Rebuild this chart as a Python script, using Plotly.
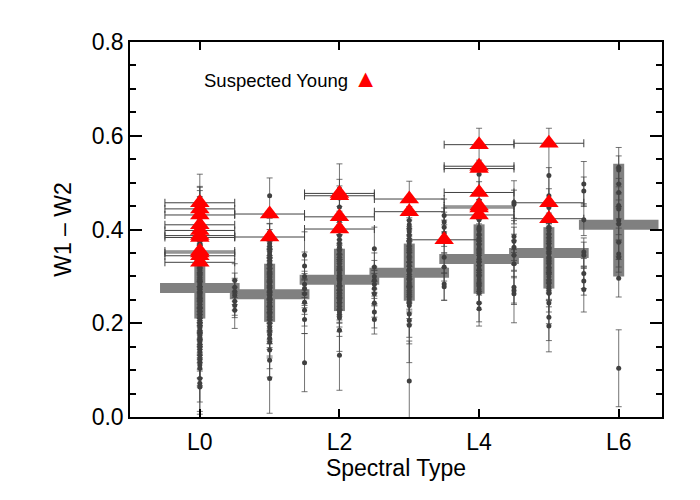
import plotly.graph_objects as go

# spectral type: L0 = 0, L1 = 1, ...
tick_vals = [0, 2, 4, 6]
tick_text = ['L0', 'L2', 'L4', 'L6']

# W1-W2 of every object, one list per spectral type bin, with errors
w12_L0 = [0.468, 0.460, 0.452, 0.445, 0.438, 0.430, 0.424, 0.418, 0.410, 0.404,
		  0.398, 0.392, 0.386, 0.380, 0.374, 0.368, 0.362, 0.356, 0.350, 0.344,
		  0.338, 0.332, 0.326, 0.320, 0.315, 0.310, 0.305, 0.300, 0.296, 0.292,
		  0.288, 0.284, 0.280, 0.276, 0.272, 0.268, 0.264, 0.260, 0.256, 0.252,
		  0.248, 0.244, 0.240, 0.236, 0.232, 0.228, 0.224, 0.220, 0.215, 0.210,
		  0.205, 0.200, 0.195, 0.190, 0.185, 0.180, 0.175, 0.170, 0.165, 0.160,
		  0.155, 0.150, 0.145, 0.140, 0.132, 0.124, 0.118, 0.111, 0.104, 0.082,
		  0.072, 0.064]
err_L0 = [0.050, 0.030, 0.040, 0.025, 0.045, 0.030, 0.035, 0.028, 0.040, 0.030,
		  0.032, 0.026, 0.038, 0.030, 0.034, 0.028, 0.030, 0.036, 0.026, 0.032,
		  0.030, 0.028, 0.034, 0.030, 0.026, 0.032, 0.030, 0.028, 0.034, 0.026,
		  0.030, 0.032, 0.028, 0.030, 0.026, 0.034, 0.030, 0.028, 0.032, 0.026,
		  0.030, 0.034, 0.028, 0.030, 0.032, 0.026, 0.030, 0.028, 0.034, 0.030,
		  0.026, 0.032, 0.030, 0.028, 0.034, 0.030, 0.026, 0.032, 0.030, 0.036,
		  0.028, 0.034, 0.030, 0.038, 0.034, 0.040, 0.036, 0.044, 0.040, 0.050,
		  0.060, 0.058]

w12_L0p5 = [0.291, 0.277, 0.268, 0.260, 0.247, 0.238, 0.228]
err_L0p5 = [0.036, 0.030, 0.028, 0.032, 0.030, 0.026, 0.039]

w12_L1 = [0.472, 0.394, 0.385, 0.378, 0.370, 0.364, 0.358, 0.352, 0.346, 0.340,
		  0.334, 0.328, 0.322, 0.316, 0.310, 0.305, 0.300, 0.295, 0.290, 0.285,
		  0.280, 0.275, 0.270, 0.265, 0.260, 0.255, 0.250, 0.245, 0.240, 0.235,
		  0.230, 0.225, 0.220, 0.214, 0.208, 0.200, 0.192, 0.184, 0.176, 0.168,
		  0.160, 0.143, 0.121, 0.082]
err_L1 = [0.038, 0.030, 0.028, 0.034, 0.030, 0.026, 0.032, 0.028, 0.030, 0.034,
		  0.026, 0.030, 0.032, 0.028, 0.030, 0.026, 0.034, 0.030, 0.028, 0.032,
		  0.030, 0.026, 0.034, 0.028, 0.030, 0.032, 0.026, 0.030, 0.028, 0.034,
		  0.030, 0.026, 0.032, 0.030, 0.028, 0.034, 0.030, 0.036, 0.032, 0.038,
		  0.034, 0.040, 0.036, 0.074]

w12_L1p5 = [0.345, 0.322, 0.300, 0.283, 0.274, 0.263, 0.245, 0.228, 0.208, 0.116]
err_L1p5 = [0.050, 0.030, 0.035, 0.028, 0.032, 0.030, 0.026, 0.034, 0.030, 0.062]

w12_L2 = [0.487, 0.467, 0.448, 0.419, 0.405, 0.387, 0.378, 0.370, 0.362, 0.355,
		  0.348, 0.341, 0.334, 0.327, 0.320, 0.314, 0.308, 0.302, 0.296, 0.290,
		  0.284, 0.278, 0.272, 0.266, 0.260, 0.254, 0.248, 0.242, 0.236, 0.230,
		  0.224, 0.218, 0.212, 0.185, 0.132]
err_L2 = [0.053, 0.040, 0.045, 0.030, 0.034, 0.028, 0.032, 0.030, 0.026, 0.034,
		  0.030, 0.028, 0.032, 0.030, 0.026, 0.034, 0.028, 0.030, 0.032, 0.026,
		  0.030, 0.034, 0.028, 0.030, 0.032, 0.026, 0.030, 0.028, 0.034, 0.030,
		  0.032, 0.036, 0.040, 0.045, 0.075]

w12_L2p5 = [0.359, 0.320, 0.300, 0.292, 0.283, 0.274, 0.263, 0.243, 0.224, 0.208]
err_L2p5 = [0.046, 0.030, 0.034, 0.028, 0.030, 0.032, 0.026, 0.030, 0.034, 0.031]

w12_L3 = [0.439, 0.419, 0.410, 0.402, 0.395, 0.388, 0.380, 0.372, 0.365, 0.358,
		  0.351, 0.344, 0.337, 0.330, 0.323, 0.316, 0.310, 0.304, 0.298, 0.292,
		  0.286, 0.280, 0.274, 0.268, 0.262, 0.256, 0.250, 0.244, 0.238, 0.220,
		  0.206, 0.196, 0.077]
err_L3 = [0.064, 0.030, 0.034, 0.028, 0.030, 0.032, 0.026, 0.030, 0.034, 0.028,
		  0.030, 0.032, 0.026, 0.030, 0.028, 0.034, 0.030, 0.026, 0.032, 0.030,
		  0.028, 0.034, 0.030, 0.026, 0.032, 0.030, 0.028, 0.034, 0.040, 0.050,
		  0.050, 0.080, 0.085]

w12_L3p5 = [0.430, 0.416, 0.405, 0.392, 0.380, 0.341, 0.320, 0.284, 0.278]
err_L3p5 = [0.035, 0.030, 0.032, 0.028, 0.030, 0.034, 0.030, 0.035, 0.029]

w12_L4 = [0.540, 0.518, 0.462, 0.421, 0.405, 0.398, 0.390, 0.382, 0.375, 0.367,
		  0.360, 0.352, 0.345, 0.338, 0.330, 0.322, 0.315, 0.308, 0.300, 0.293,
		  0.286, 0.279, 0.272, 0.265, 0.243, 0.231]
err_L4 = [0.076, 0.030, 0.040, 0.034, 0.030, 0.028, 0.032, 0.030, 0.026, 0.034,
		  0.030, 0.028, 0.032, 0.030, 0.026, 0.034, 0.030, 0.028, 0.032, 0.030,
		  0.026, 0.034, 0.030, 0.036, 0.040, 0.037]

w12_L4p5 = [0.458, 0.454, 0.385, 0.375, 0.362, 0.345, 0.327, 0.277, 0.270, 0.263]
err_L4p5 = [0.046, 0.030, 0.034, 0.030, 0.028, 0.032, 0.030, 0.034, 0.030, 0.062]

w12_L5 = [0.515, 0.472, 0.447, 0.423, 0.405, 0.398, 0.390, 0.383, 0.376, 0.369,
		  0.362, 0.355, 0.348, 0.341, 0.334, 0.327, 0.320, 0.313, 0.306, 0.299,
		  0.292, 0.285, 0.278, 0.271, 0.264, 0.243, 0.213, 0.194]
err_L5 = [0.101, 0.060, 0.040, 0.034, 0.030, 0.028, 0.032, 0.030, 0.026, 0.034,
		  0.030, 0.028, 0.032, 0.030, 0.026, 0.034, 0.030, 0.028, 0.032, 0.030,
		  0.026, 0.034, 0.030, 0.036, 0.040, 0.044, 0.050, 0.055]

w12_L5p5 = [0.497, 0.482, 0.421, 0.352, 0.345, 0.306, 0.290, 0.272]
err_L5p5 = [0.048, 0.030, 0.034, 0.030, 0.028, 0.032, 0.030, 0.048]

w12_L6 = [0.533, 0.527, 0.497, 0.479, 0.451, 0.444, 0.419, 0.412, 0.373, 0.348,
		  0.341, 0.296, 0.104]
err_L6 = [0.042, 0.030, 0.034, 0.030, 0.028, 0.032, 0.030, 0.034, 0.030, 0.028,
		  0.032, 0.040, 0.082]

# median per integer type and the spread around it
med_types = [0, 1, 2, 3, 4, 5, 6]
med_w12 = [0.275, 0.262, 0.293, 0.308, 0.337, 0.350, 0.410]
spread_lo = [0.210, 0.203, 0.226, 0.248, 0.263, 0.274, 0.300]
spread_hi = [0.340, 0.327, 0.359, 0.370, 0.411, 0.405, 0.540]

# suspected young objects
young_type = [0, 0, 0, 0, 0, 0, 0, 0, 0, 0, 0,
			  1, 1,
			  2, 2, 2, 2,
			  3, 3,
			  3.5,
			  4, 4, 4, 4, 4, 4, 4,
			  5, 5, 5]
young_w12 = [0.457, 0.444, 0.431, 0.410, 0.398, 0.387, 0.383, 0.354, 0.350, 0.344, 0.330,
			 0.433, 0.384,
			 0.477, 0.472, 0.427, 0.401,
			 0.465, 0.438,
			 0.378,
			 0.581, 0.535, 0.530, 0.479, 0.450, 0.446, 0.431,
			 0.584, 0.457, 0.423]
young_type_err = 0.5


columns = [
	(0, w12_L0, err_L0), (0.5, w12_L0p5, err_L0p5),
	(1, w12_L1, err_L1), (1.5, w12_L1p5, err_L1p5),
	(2, w12_L2, err_L2), (2.5, w12_L2p5, err_L2p5),
	(3, w12_L3, err_L3), (3.5, w12_L3p5, err_L3p5),
	(4, w12_L4, err_L4), (4.5, w12_L4p5, err_L4p5),
	(5, w12_L5, err_L5), (5.5, w12_L5p5, err_L5p5),
	(6, w12_L6, err_L6),
]

fig = go.Figure()

# grey crosses: median (bin wide) and spread
half_bin = 0.57
hx, hy, vx, vy = [], [], [], []
for t, m, lo, hi in zip(med_types, med_w12, spread_lo, spread_hi):
	hx += [t - half_bin, t + half_bin, None]
	hy += [m, m, None]
	vx += [t, t, None]
	vy += [lo, hi, None]

fig.add_trace(go.Scatter(x=vx, y=vy, mode='lines',
						 line=dict(color='#808080', width=11), hoverinfo='skip'))
fig.add_trace(go.Scatter(x=hx, y=hy, mode='lines',
						 line=dict(color='#808080', width=10), hoverinfo='skip'))

for t, vals, errs in columns:
	fig.add_trace(go.Scatter(
		x=[t] * len(vals), y=vals,
		mode='markers',
		marker=dict(size=5, color='#404040'),
		error_y=dict(type='data', array=errs, visible=True,
					 color='rgba(70,70,70,0.75)', thickness=1, width=3),
	))

fig.add_trace(go.Scatter(
	x=young_type, y=young_w12,
	mode='markers',
	marker=dict(symbol='triangle-up', size=17, color='#ff0000'),
	error_x=dict(type='constant', value=young_type_err, visible=True,
				 color='#404040', thickness=1, width=4),
))

fig.add_annotation(
	xref='paper', yref='paper', x=0.135, y=0.904,
	xanchor='left', yanchor='middle', showarrow=False,
	text="Suspected Young <span style='color:#ff0000;font-size:25px'>▲</span>",
	font=dict(size=18.5, color='black', family='Liberation Sans'),
)

axis_common = dict(
	showgrid=False, zeroline=False,
	showline=True, linecolor='black', linewidth=1.5, mirror='ticks',
	ticks='inside', tickcolor='black', tickwidth=1.5,
	tickfont=dict(size=23, color='black'),
)

# the page body adds an 8 px offset, so margins are shifted to compensate
fig.update_layout(
	width=700, height=500,
	showlegend=False,
	plot_bgcolor='white', paper_bgcolor='white',
	margin=dict(l=122, r=46, t=34, b=91),
	font=dict(family='Liberation Sans', color='black'),
	xaxis=dict(range=[-1.0, 6.62], tickvals=tick_vals, ticktext=tick_text,
			   ticklen=8, ticklabelstandoff=4,
			   title=dict(text='Spectral Type', font=dict(size=23), standoff=0),
			   **axis_common),
	yaxis=dict(range=[0, 0.8], tickvals=[0, 0.2, 0.4, 0.6, 0.8], tickformat='.1f',
			   ticklen=12,
			   minor=dict(dtick=0.05, ticks='inside', ticklen=6, tickcolor='black', tickwidth=1.5),
			   title=dict(text='W1 – W2', font=dict(size=23), standoff=14),
			   **axis_common),
)

fig.write_html('out.html')
